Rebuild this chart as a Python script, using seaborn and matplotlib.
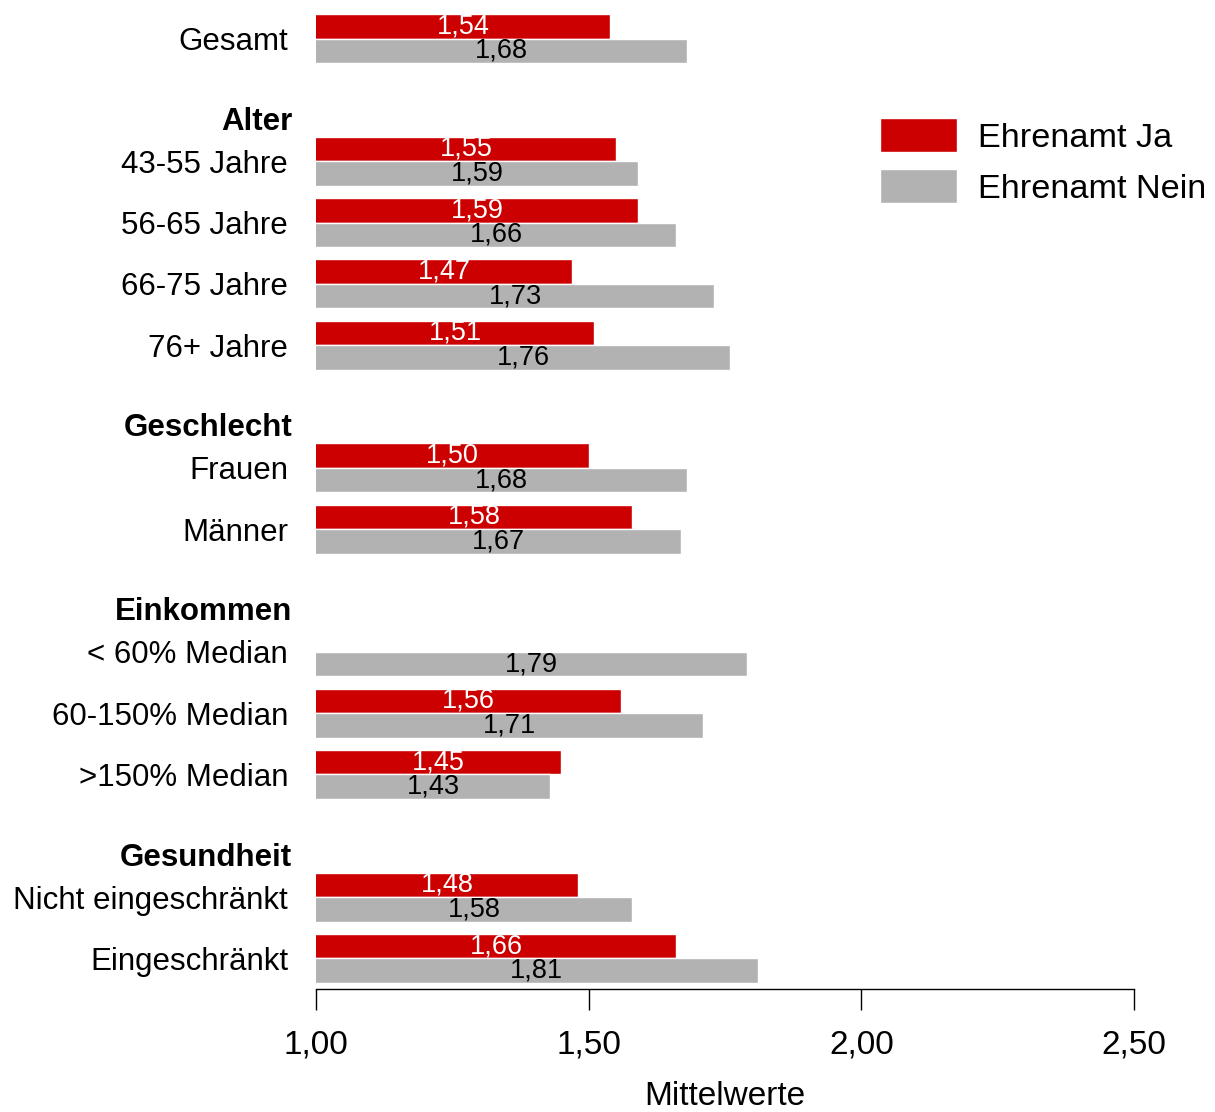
import numpy as np
import pandas as pd
import matplotlib.pyplot as plt
import seaborn as sns

# rows of the chart, header rows stay empty and get a bold label
categories = ["Gesamt", "Alter", "43-55 Jahre", "56-65 Jahre", "66-75 Jahre", "76+ Jahre",
              "Geschlecht", "Frauen", "Männer",
              "Einkommen", "< 60% Median", "60-150% Median", ">150% Median",
              "Gesundheit", "Nicht eingeschränkt", "Eingeschränkt"]
headers = ["Alter", "Geschlecht", "Einkommen", "Gesundheit"]
series = ["Ehrenamt Ja", "Ehrenamt Nein"]
ja = [1.54, np.nan, 1.55, 1.59, 1.47, 1.51, np.nan, 1.50, 1.58,
      np.nan, np.nan, 1.56, 1.45, np.nan, 1.48, 1.66]
nein = [1.68, np.nan, 1.59, 1.66, 1.73, 1.76, np.nan, 1.68, 1.67,
        np.nan, 1.79, 1.71, 1.43, np.nan, 1.58, 1.81]
xticks = [1.0, 1.5, 2.0, 2.5]
xtick_labels = ["1,00", "1,50", "2,00", "2,50"]

df = pd.DataFrame({
    "Gruppe": categories * 2,
    "Ehrenamt": [series[0]] * len(categories) + [series[1]] * len(categories),
    "Mittelwert": ja + nein,
})

sns.set_style("white")
plt.rcParams['font.family'] = ['Liberation Sans', 'DejaVu Sans']
plt.rcParams.update({"text.color": "black", "axes.labelcolor": "black",
                     "xtick.color": "black", "ytick.color": "black"})

fig = plt.figure(figsize=(12.15, 11.12), dpi=100)
ax = fig.add_axes([316 / 1215, 123 / 1112, 818 / 1215, 989 / 1112])

sns.barplot(data=df, y="Gruppe", x="Mittelwert", hue="Ehrenamt", order=categories,
            hue_order=series, palette={"Ehrenamt Ja": "#CC0000", "Ehrenamt Nein": "#B2B2B2"},
            saturation=1, errorbar=None, orient="h", edgecolor="white", linewidth=1, ax=ax)

# value labels in the middle of each bar
for cont, col in zip(ax.containers, ["white", "black"]):
    for bar in cont:
        w = bar.get_width()
        if np.isnan(w) or w == 0:
            continue
        ax.text((1 + w) / 2, bar.get_y() + bar.get_height() / 2,
                f"{w:.2f}".replace(".", ","), ha="center", va="center",
                color=col, fontsize=19.5)

ax.set_xlim(1, 2.5)
ax.set_ylim(15.5, -0.63)
ax.set_xticks(xticks)
ax.set_xticklabels(xtick_labels, fontsize=24)
ax.set_yticks(range(len(categories)))
ax.set_yticklabels(["" if c in headers else c for c in categories], fontsize=22.5)
for c in headers:
    ax.text(-0.0293, categories.index(c) + 0.3, c, transform=ax.get_yaxis_transform(),
            ha="right", va="center_baseline", fontsize=22.5, fontweight="bold")

ax.set_ylabel("")
ax.set_xlabel("Mittelwerte", fontsize=24, labelpad=15)
sns.despine(ax=ax, left=True)
ax.spines["bottom"].set_color("black")
ax.spines["bottom"].set_linewidth(1)
ax.tick_params(axis="x", length=15, width=1, color="black", pad=14, direction="out", bottom=True)
ax.tick_params(axis="y", length=0, pad=20)

handles, labels = ax.get_legend_handles_labels()
ax.legend(handles, labels, loc="upper left", bbox_to_anchor=(880 / 1215, 1 - 118 / 1112),
          bbox_transform=fig.transFigure, frameon=False, fontsize=24.7,
          handlelength=2.24, handleheight=1.15, handletextpad=0.61, labelspacing=0.45,
          borderpad=0, borderaxespad=0)

fig.savefig("out.png", dpi=100)
